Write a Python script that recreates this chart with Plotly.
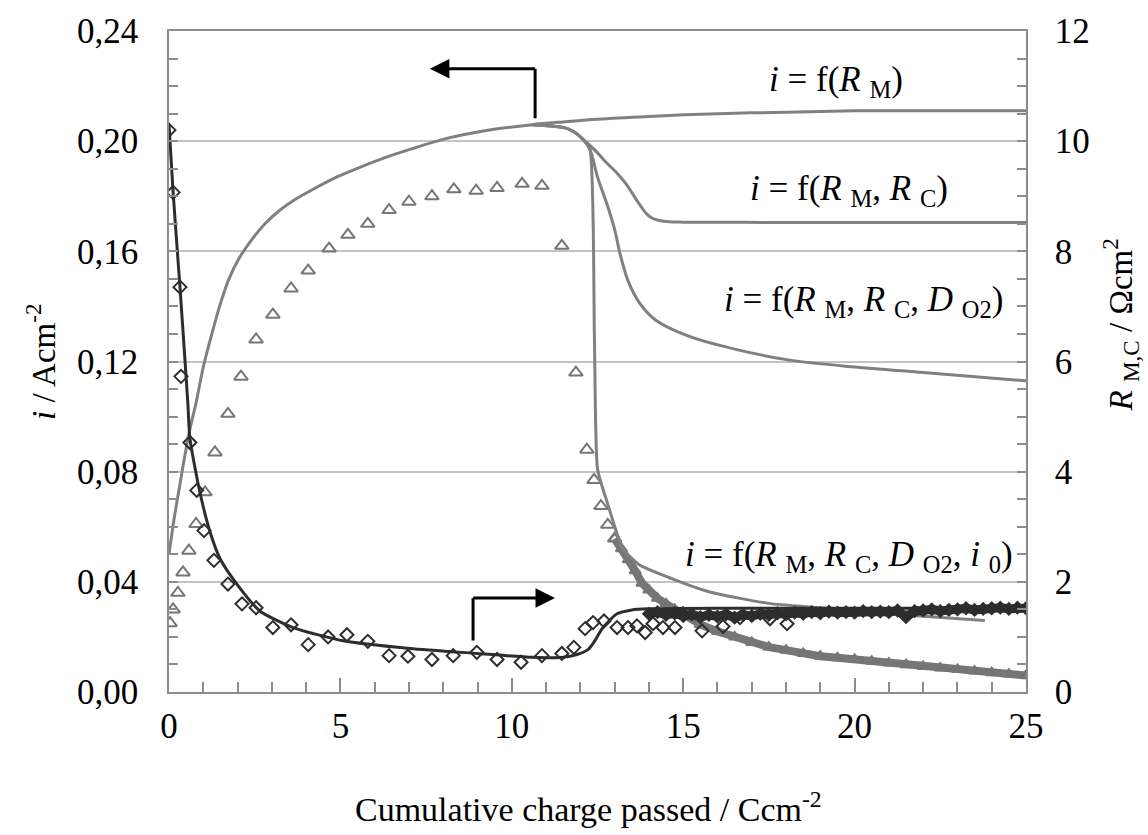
import plotly.graph_objects as go

# ---------------- data ----------------
# experimental current density (left axis), triangles
tri_x = [0.03, 0.12, 0.26, 0.41, 0.58, 0.79, 1.05, 1.34, 1.72, 2.1, 2.54, 3.03, 3.56, 4.06,
         4.67, 5.22, 5.8, 6.42, 7.0, 7.67, 8.31, 8.96, 9.57, 10.3, 10.88, 11.46, 11.87,
         12.19, 12.4, 12.6, 12.8, 13.0]
tri_i = [0.025, 0.030, 0.036, 0.0434, 0.0513, 0.061, 0.0725, 0.087, 0.101, 0.1145, 0.128,
         0.137, 0.1465, 0.153, 0.161, 0.166, 0.170, 0.175, 0.178, 0.180, 0.1825, 0.182, 0.183,
         0.1845, 0.1838, 0.162, 0.116, 0.088, 0.077, 0.0675, 0.0607, 0.0557]
# dense tail of the experimental current (drawn as a thick band of triangles)
tail_x = [13.0, 13.2, 13.4, 13.6, 13.8, 14.0, 14.25, 14.5, 14.75, 15.0, 15.5, 16.0, 16.5, 17.0,
          17.5, 18.0, 18.5, 19.0, 19.5, 20.0, 20.5, 21.0, 21.5, 22.0, 22.5, 23.0, 23.5, 24.0,
          24.5, 25.0]
tail_i = [0.0557, 0.052, 0.048, 0.044, 0.0395, 0.037, 0.034, 0.032, 0.030, 0.028, 0.0245,
          0.022, 0.020, 0.018, 0.0163, 0.0152, 0.014, 0.013, 0.0124, 0.0118, 0.0112, 0.0105,
          0.0099, 0.0093, 0.0087, 0.0082, 0.0076, 0.0070, 0.0065, 0.0060]

# model curves (left axis)
rm_x = [0.0, 0.15, 0.3, 0.45, 0.61, 0.79, 1.0, 1.25, 1.5, 1.75, 2.07, 2.4, 2.8, 3.24, 3.7,
        4.2, 4.9, 5.57, 6.3, 7.03, 8.1, 9.3, 10.6, 11.5, 12.5, 14.0, 16.0, 18.0, 20.0, 22.0, 25.0]
rm_i = [0.050, 0.063, 0.074, 0.085, 0.0955, 0.105, 0.118, 0.130, 0.141, 0.150, 0.158, 0.164,
        0.170, 0.175, 0.179, 0.1825, 0.187, 0.1905, 0.194, 0.197, 0.201, 0.204, 0.206, 0.207,
        0.208, 0.209, 0.210, 0.2105, 0.211, 0.211, 0.211]
rmrc_x = [10.6, 11.5, 11.8, 12.05, 12.4, 12.78, 13.1, 13.36, 13.7, 13.94, 14.1, 14.3, 14.6,
          15.0, 18.0, 25.0]
rmrc_i = [0.206, 0.205, 0.2035, 0.201, 0.197, 0.192, 0.188, 0.184, 0.1775, 0.1735, 0.172,
          0.1712, 0.1707, 0.1706, 0.1705, 0.1705]
do2_x = [10.6, 11.5, 11.8, 12.05, 12.28, 12.5, 12.78, 13.0, 13.16, 13.4, 13.74, 14.2, 15.2,
         16.5, 18.1, 20.0, 22.0, 25.0]
do2_i = [0.206, 0.205, 0.2035, 0.201, 0.197, 0.187, 0.177, 0.168, 0.159, 0.149, 0.141, 0.135,
         0.129, 0.1245, 0.1205, 0.118, 0.116, 0.113]
i0_x = [10.6, 11.5, 11.8, 12.05, 12.28, 12.41, 12.5, 12.78, 13.24, 13.74, 14.7, 15.7, 16.66,
        17.6, 18.6, 20.0, 22.0, 23.8]
i0_i = [0.206, 0.205, 0.2035, 0.201, 0.197, 0.129, 0.081, 0.069, 0.052, 0.046, 0.041, 0.0366,
        0.034, 0.032, 0.031, 0.0295, 0.0275, 0.026]

# resistance model (right axis)
rmod_x = [0.0, 0.12, 0.32, 0.55, 0.61, 0.9, 1.2, 1.49, 1.98, 2.65, 3.62, 5.08, 7.03, 8.98,
          10.6, 11.5, 11.9, 12.2, 12.37, 12.66, 13.07, 13.5, 14.0, 16.0, 18.0, 20.0, 22.0, 25.0]
rmod_r = [10.3, 9.07, 7.35, 5.24, 4.6, 3.63, 2.9, 2.42, 1.96, 1.47, 1.17, 0.93, 0.79, 0.70,
          0.63, 0.63, 0.68, 0.76, 0.88, 1.17, 1.42, 1.49, 1.51, 1.52, 1.52, 1.52, 1.52, 1.52]
# experimental resistance (right axis), diamonds
dia_x = [0.0, 0.12, 0.32, 0.35, 0.61, 0.81, 1.02, 1.31, 1.72, 2.13, 2.54, 3.03, 3.56, 4.06,
         4.64, 5.19, 5.8, 6.42, 6.97, 7.67, 8.29, 8.98, 9.57, 10.27, 10.88, 11.46, 11.81,
         12.14, 12.37, 12.69, 13.07, 13.39, 13.65, 13.89, 14.12, 14.41, 14.76, 14.99, 15.55,
         16.16, 16.66, 17.53, 18.03]
dia_r = [10.2, 9.07, 7.35, 5.73, 4.53, 3.66, 2.93, 2.39, 1.96, 1.60, 1.53, 1.17, 1.22, 0.86,
         1.0, 1.04, 0.92, 0.66, 0.65, 0.59, 0.66, 0.72, 0.59, 0.54, 0.66, 0.70, 0.81, 1.15,
         1.26, 1.29, 1.17, 1.17, 1.20, 1.08, 1.24, 1.17, 1.17, 1.42, 1.11, 1.19, 1.35, 1.33, 1.24]
# dense band of experimental resistance
band_x = [14.0, 14.25, 14.5, 14.75, 15.0, 15.25, 15.5, 15.75, 16.0, 16.25, 16.5, 16.75, 17.0,
          17.25, 17.5, 17.75, 18.0, 18.25, 18.5, 18.75, 19.0, 19.25, 19.5, 19.75, 20.0, 20.25,
          20.5, 20.75, 21.0, 21.25, 21.5, 21.75, 22.0, 22.25, 22.5, 22.75, 23.0, 23.25, 23.5,
          23.75, 24.0, 24.25, 24.5, 24.75, 25.0]
band_r = [1.42, 1.45, 1.40, 1.43, 1.38, 1.41, 1.36, 1.40, 1.37, 1.41, 1.35, 1.40, 1.38, 1.42,
          1.40, 1.43, 1.41, 1.44, 1.42, 1.45, 1.43, 1.46, 1.44, 1.45, 1.44, 1.47, 1.45, 1.46,
          1.45, 1.48, 1.36, 1.47, 1.48, 1.50, 1.47, 1.49, 1.50, 1.52, 1.49, 1.51, 1.52, 1.53,
          1.51, 1.53, 1.52]

x_ticks = [0, 5, 10, 15, 20, 25]
x_ticktext = ["0", "5", "10", "15", "20", "25"]
i_ticks = [0.0, 0.04, 0.08, 0.12, 0.16, 0.20, 0.24]
i_ticktext = ["0,00", "0,04", "0,08", "0,12", "0,16", "0,20", "0,24"]
r_ticks = [0, 2, 4, 6, 8, 10, 12]
r_ticktext = ["0", "2", "4", "6", "8", "10", "12"]

# ---------------- styling ----------------
FONT = "Liberation Serif"
GRAY = "rgb(128,128,128)"
TRI = "rgb(118,118,118)"
DARK = "rgb(45,45,45)"
AXC = "rgb(140,140,140)"

fig = go.Figure()

# experimental current
fig.add_trace(go.Scatter(x=tail_x, y=tail_i, mode="lines+markers",
                         line=dict(color=TRI, width=8),
                         marker=dict(symbol="triangle-up-open", size=10, color=TRI,
                                     line=dict(width=2, color=TRI)),
                         yaxis="y", showlegend=False))
fig.add_trace(go.Scatter(x=tri_x, y=tri_i, mode="markers",
                         marker=dict(symbol="triangle-up-open", size=12, color=TRI,
                                     line=dict(width=2, color=TRI)),
                         yaxis="y", showlegend=False))
# model curves
for xs, ys in [(rm_x, rm_i), (rmrc_x, rmrc_i), (do2_x, do2_i)]:
    fig.add_trace(go.Scatter(x=xs, y=ys, mode="lines", line=dict(color=GRAY, width=3,
                             shape="spline", smoothing=0.8),
                             yaxis="y", showlegend=False))
fig.add_trace(go.Scatter(x=i0_x, y=i0_i, mode="lines", line=dict(color=GRAY, width=3,
                         shape="spline", smoothing=0.5),
                         yaxis="y", showlegend=False))

# resistance
fig.add_trace(go.Scatter(x=band_x, y=band_r, mode="lines+markers",
                         line=dict(color=DARK, width=9),
                         marker=dict(symbol="diamond", size=11, color=DARK),
                         yaxis="y2", showlegend=False))
fig.add_trace(go.Scatter(x=rmod_x, y=rmod_r, mode="lines",
                         line=dict(color=DARK, width=3, shape="spline", smoothing=0.6),
                         yaxis="y2", showlegend=False))
fig.add_trace(go.Scatter(x=dia_x, y=dia_r, mode="markers",
                         marker=dict(symbol="diamond-open", size=10, color=DARK,
                                     line=dict(width=2, color=DARK)),
                         yaxis="y2", showlegend=False))

# ---------------- annotations ----------------
def lab(txt, x, y):
    fig.add_annotation(x=x, y=y, xref="x", yref="y", text=txt, showarrow=False,
                       xanchor="right", yanchor="middle",
                       font=dict(family=FONT, size=35, color="black"))

lab("<i>i</i> = f(<i>R</i> <sub>M</sub>)", 21.47, 0.2215)
lab("<i>i</i> = f(<i>R</i> <sub>M</sub>, <i>R</i> <sub>C</sub>)", 22.78, 0.182)
lab("<i>i</i> = f(<i>R</i> <sub>M</sub>, <i>R</i> <sub>C</sub>, <i>D</i> <sub>O2</sub>)", 24.39, 0.1418)
lab("<i>i</i> = f(<i>R</i> <sub>M</sub>, <i>R</i> <sub>C</sub>, <i>D</i> <sub>O2</sub>, <i>i</i> <sub>0</sub>)", 24.68, 0.0492)

# arrows
fig.add_shape(type="line", x0=10.68, x1=10.68, y0=0.2083, y1=0.2263, xref="x", yref="y",
              line=dict(color="black", width=3))
fig.add_annotation(x=7.61, y=0.2263, ax=10.72, ay=0.2263, xref="x", yref="y",
                   axref="x", ayref="y", showarrow=True, arrowhead=2, arrowsize=1.3,
                   arrowwidth=3, arrowcolor="black", text="")
fig.add_shape(type="line", x0=8.87, x1=8.87, y0=0.0187, y1=0.0341, xref="x", yref="y",
              line=dict(color="black", width=3))
fig.add_annotation(x=11.26, y=0.0341, ax=8.83, ay=0.0341, xref="x", yref="y",
                   axref="x", ayref="y", showarrow=True, arrowhead=2, arrowsize=1.3,
                   arrowwidth=3, arrowcolor="black", text="")

# axis titles
fig.add_annotation(x=-0.150, y=0.5, xref="paper", yref="paper", textangle=-90,
                   xanchor="center", yanchor="middle",
                   text="<i>i</i> / Acm<sup>-2</sup>", showarrow=False,
                   font=dict(family=FONT, size=33, color="black"))
fig.add_annotation(x=1.110, y=0.555, xref="paper", yref="paper", textangle=-90,
                   xanchor="center", yanchor="middle",
                   text="<i>R</i> <sub>M,C</sub> / Ωcm<sup>2</sup>", showarrow=False,
                   font=dict(family=FONT, size=33, color="black"))
fig.add_annotation(x=0.49, y=-0.1737, xref="paper", yref="paper",
                   xanchor="center", yanchor="middle",
                   text="Cumulative charge passed / Ccm<sup>-2</sup>", showarrow=False,
                   font=dict(family=FONT, size=34, color="black"))

fig.update_layout(
    width=1148, height=835,
    margin=dict(l=169, r=122, t=24, b=143),
    paper_bgcolor="white", plot_bgcolor="white",
    font=dict(family=FONT, size=35, color="black"),
    xaxis=dict(range=[0, 25], tickvals=x_ticks, ticktext=x_ticktext,
               ticks="inside", ticklen=14, tickcolor=AXC, tickwidth=1.5,
               minor=dict(dtick=1, ticks="inside", ticklen=10, tickcolor=AXC, tickwidth=1.5),
               showline=True, linecolor=AXC, linewidth=1.5, mirror=True,
               showgrid=False, zeroline=False, ticklabelstandoff=2),
    yaxis=dict(range=[0, 0.24], tickvals=i_ticks, ticktext=i_ticktext,
               ticks="inside", ticklen=9, tickcolor=AXC, tickwidth=1.5,
               minor=dict(dtick=0.01, ticks="inside", ticklen=9, tickcolor=AXC, tickwidth=1.5),
               showline=True, linecolor=AXC, linewidth=1.5,
               showgrid=True, gridcolor="rgb(195,195,195)", gridwidth=1.5,
               zeroline=False, ticklabelstandoff=22),
    yaxis2=dict(range=[0, 12], tickvals=r_ticks, ticktext=r_ticktext, overlaying="y",
                side="right", ticks="inside", ticklen=9, tickcolor=AXC, tickwidth=1.5,
                minor=dict(dtick=0.5, ticks="inside", ticklen=9, tickcolor=AXC, tickwidth=1.5),
                showline=True, linecolor=AXC, linewidth=1.5, showgrid=False,
                zeroline=False, ticklabelstandoff=20),
)

fig.write_html("out.html")
